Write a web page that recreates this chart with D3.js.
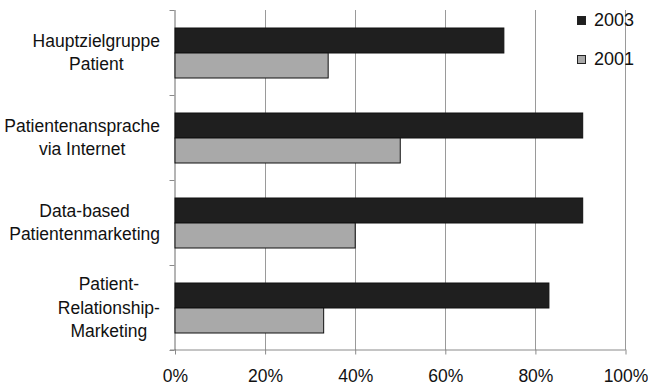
<!DOCTYPE html>
<html>
<head>
<meta charset="utf-8">
<script src="https://cdn.jsdelivr.net/npm/d3@7"></script>
<style>
  html, body { margin: 0; padding: 0; background: #fff; }
  svg { display: block; font-family: "Liberation Sans", Arial, sans-serif; }
</style>
</head>
<body>
<svg id="chart" width="648" height="386"></svg>
<script>
// Categories (top to bottom), each label split into its drawn lines
const categories = [
  "Hauptzielgruppe Patient",
  "Patientenansprache via Internet",
  "Data-based Patientenmarketing",
  "Patient-Relationship-Marketing"
];
const categoryLines = [
  ["Hauptzielgruppe", "Patient"],
  ["Patientenansprache", "via Internet"],
  ["Data-based", "Patientenmarketing"],
  ["Patient-", "Relationship-", "Marketing"]
];
const seriesNames = ["2003", "2001"];
const values2003 = [73, 90.5, 90.5, 83];
const values2001 = [34, 50, 40, 33];
const tickValues = [0, 20, 40, 60, 80, 100];
const seriesColors = ["#1f1f1f", "#a9a9a9"];

const svg = d3.select("#chart");
const plot = { left: 174.5, right: 625, top: 10, bottom: 350 };

const x = d3.scaleLinear().domain([0, 100]).range([plot.left, plot.right]);
const y = d3.scaleBand().domain(categories).range([plot.top, plot.bottom]).padding(0);
const ySeries = d3.scaleBand().domain(seriesNames).range([0, y.bandwidth()])
  .paddingInner(0).paddingOuter(0.7);

const rows = categories.map((c, i) => ({
  category: c,
  lines: categoryLines[i],
  values: [
    { series: "2003", value: values2003[i] },
    { series: "2001", value: values2001[i] }
  ]
}));

// Vertical gridlines
svg.append("g")
  .selectAll("line")
  .data(tickValues.filter(t => t > 0))
  .join("line")
  .attr("x1", d => Math.round(x(d)) + 0.5)
  .attr("x2", d => Math.round(x(d)) + 0.5)
  .attr("y1", plot.top)
  .attr("y2", plot.bottom)
  .attr("stroke", "#9a9a9a")
  .attr("stroke-width", 1);

// Bottom axis with ticks pointing down
const xAxis = d3.axisBottom(x)
  .tickValues(tickValues)
  .tickFormat(d => d + "%")
  .tickSize(5)
  .tickPadding(15);
const gx = svg.append("g")
  .attr("transform", `translate(0.5,${plot.bottom - 0.5})`)
  .call(xAxis);
gx.select(".domain").attr("stroke", "#8a8a8a").attr("d", `M${plot.left - 5},0.5H${plot.right}`);
gx.selectAll(".tick line").attr("stroke", "#8a8a8a");
gx.selectAll(".tick text")
  .attr("font-size", 17.5)
  .attr("fill", "#111")
  .attr("font-family", "'Liberation Sans', Arial, sans-serif");

// Left axis: line with ticks at category boundaries
const gy = svg.append("g");
gy.append("line")
  .attr("x1", plot.left + 0.5).attr("x2", plot.left + 0.5)
  .attr("y1", plot.top).attr("y2", plot.bottom)
  .attr("stroke", "#6a6a6a");
const boundaries = categories.map(c => y(c)).concat([plot.bottom]);
gy.selectAll("line.tick")
  .data(boundaries)
  .join("line")
  .attr("class", "tick")
  .attr("x1", plot.left - 5).attr("x2", plot.left)
  .attr("y1", d => Math.round(d) + 0.5)
  .attr("y2", d => Math.round(d) + 0.5)
  .attr("stroke", "#8a8a8a");

// Bars
const groups = svg.append("g")
  .selectAll("g")
  .data(rows)
  .join("g")
  .attr("transform", d => `translate(0,${y(d.category)})`);

groups.selectAll("rect")
  .data(d => d.values)
  .join("rect")
  .attr("x", x(0) + 0.5)
  .attr("y", d => ySeries(d.series) + 0.5)
  .attr("width", d => x(d.value) - x(0))
  .attr("height", ySeries.bandwidth())
  .attr("fill", d => seriesColors[seriesNames.indexOf(d.series)])
  .attr("stroke", "#111")
  .attr("stroke-width", 1);

// Category labels: centred lines, block placed just left of the axis
const lineHeight = 23.7;
const labels = svg.append("g")
  .selectAll("text")
  .data(rows)
  .join("text")
  .attr("text-anchor", "middle")
  .attr("font-size", 17.5)
  .attr("fill", "#111")
  .attr("transform", d => `translate(0,${y(d.category) + y.bandwidth() / 2})`);

labels.each(function(d) {
  const n = d.lines.length;
  const t = d3.select(this);
  d.lines.forEach((line, i) => {
    t.append("tspan")
      .attr("x", 0)
      .attr("y", (i - (n - 1) / 2) * lineHeight + 6)
      .text(line);
  });
});

labels.each(function() {
  const bb = this.getBBox();
  const right = 160;
  const cx = right - bb.width / 2;
  d3.select(this).selectAll("tspan").attr("x", cx);
});

// Legend
const legend = svg.append("g")
  .selectAll("g")
  .data(seriesNames)
  .join("g")
  .attr("transform", (d, i) => `translate(577,${16 + i * 39})`);
legend.append("rect")
  .attr("x", 0.5).attr("y", 0.5)
  .attr("width", 8).attr("height", 8)
  .attr("fill", d => seriesColors[seriesNames.indexOf(d)])
  .attr("stroke", "#222");
legend.append("text")
  .attr("x", 17)
  .attr("y", 10)
  .attr("font-size", 18)
  .attr("fill", "#111")
  .text(d => d);
</script>
</body>
</html>
